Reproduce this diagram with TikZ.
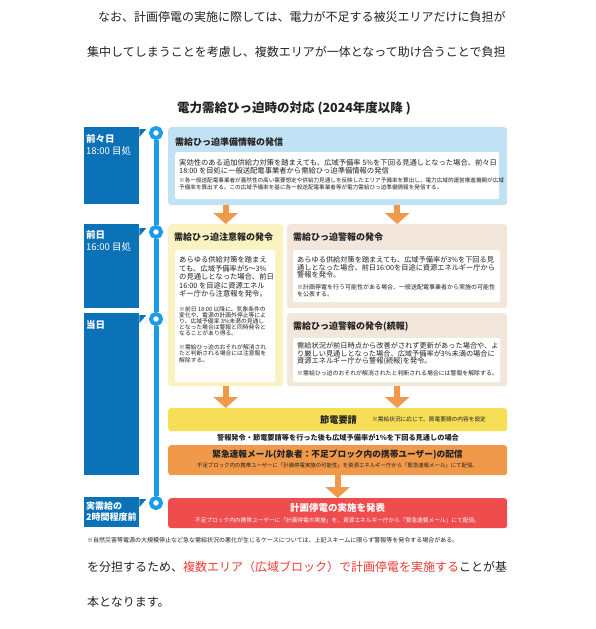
\documentclass[tikz,border=0pt]{standalone}
\usepackage{fontspec}
\setmainfont{Noto Sans CJK JP}
\usepackage{xcolor}
\usepackage{tikz}
\usetikzlibrary{arrows.meta,positioning}
\definecolor{dayblue}{HTML}{0B72B8}
\definecolor{lineblue}{HTML}{1E9BE8}
\definecolor{prepfill}{HTML}{C0E2F4}
\definecolor{cautfill}{HTML}{FAF3C1}
\definecolor{warnfill}{HTML}{F3E7DB}
\definecolor{arroworange}{HTML}{F0994A}
\definecolor{savefill}{HTML}{F6DF57}
\definecolor{mailfill}{HTML}{F0994A}
\definecolor{outagefill}{HTML}{EF4D4D}
\definecolor{redtext}{HTML}{EE3B33}
\definecolor{inktext}{HTML}{222222}
\newcommand{\setfs}[2]{\fontsize{#1}{#2}\selectfont}
\tikzset{
  daybox/.style={
    anchor=north west,
    fill=dayblue,
    minimum width=55pt,
    inner sep=0pt
  },
  daytext/.style={
    anchor=north west,
    align=left,
    inner sep=0pt,
    text=white,
    font=\setfs{9.5}{12}
  },
  tlmark/.style={
    circle,
    draw=lineblue,
    fill=white,
    line width=4pt,
    minimum size=10pt,
    inner sep=0pt
  },
  tlline/.style={draw=lineblue, line width=5pt},
  panel/.style={
    anchor=north west,
    rounded corners=3pt,
    inner sep=0pt
  },
  whitebox/.style={panel, fill=white, rounded corners=1.5pt},
  paneltitle/.style={
    anchor=west,
    inner sep=0pt,
    text=inktext,
    font=\bfseries\setfs{9}{11}
  },
  maintext/.style={
    anchor=north west,
    align=left,
    inner sep=0pt,
    text=inktext
  },
  flow/.style={draw=arroworange, line width=6pt, -{Triangle[width=24pt,length=11pt]}},
  para/.style={
    anchor=west,
    inner sep=0pt,
    text=inktext,
    font=\setfs{12}{14}
  }
}

\begin{document}
\begin{tikzpicture}[x=1pt,y=-1pt]
  \useasboundingbox (0,0) rectangle (595,629);

  % surrounding paragraph
  \node[para] (para1) at (98,16.7) {なお、計画停電の実施に際しては、電力が不足する被災エリアだけに負担が};
  \node[para] (para2) at (87,52.3) {集中してしまうことを考慮し、複数エリアが一体となって助け合うことで負担};
  \node[para] (para3) at (87,566.7) {を分担するため、\textcolor{redtext}{複数エリア（広域ブロック）で計画停電を実施する}ことが基};
  \node[para] (para4) at (87,601.7) {本となります。};

  \node[text=inktext, font=\bfseries\setfs{12.5}{14}] (title) at (294,108.3) {電力需給ひっ迫時の対応 (2024年度以降 )};

  % timeline
  \node[daybox, minimum height=77pt] (day1) at (84,127) {};
  \node[daybox, minimum height=84pt] (day2) at (84,224) {};
  \node[daybox, minimum height=162pt] (day3) at (84,313) {};
  \node[daybox, minimum height=30pt] (day4) at (84,497) {};

  \node[daytext] (day1txt) at (86,133.8) {\textbf{前々日}\\18:00 目処};
  \node[daytext] (day2txt) at (86,230.5) {\textbf{前日}\\16:00 目処};
  \node[daytext] (day3txt) at (86,320.5) {\textbf{当日}};
  \node[daytext, font=\bfseries\setfs{9}{11.5}] (day4txt) at (86,501.5) {実需給の\\2時間程度前};

  \node[tlmark] (t1) at (156,133) {};
  \node[tlmark] (t2) at (156,232) {};
  \node[tlmark] (t3) at (156,319) {};
  \node[tlmark] (t4) at (156,503) {};
  \draw[tlline] (t1) -- (t2);
  \draw[tlline] (t2) -- (t3);
  \draw[tlline] (t3) -- (t4);

  \foreach \d/\t in {day1/t1,day2/t2,day3/t3,day4/t4}
    \fill[dayblue] ([yshift=4pt]\d.east |- \t) -- ++(7,0) -- ++(-7,8) -- cycle;

  % preparation notice
  \node[panel, fill=prepfill, minimum width=339pt, minimum height=78pt] (prep) at (168,127) {};
  \node[paneltitle] (prepttl) at (175,141.7) {需給ひっ迫準備情報の発信};
  \node[whitebox, minimum width=324pt, minimum height=47pt] (prepin) at (175,152) {};
  \node[maintext, font=\setfs{7.3}{8.8}] (prepmain) at (179,158.8)
    {実効性のある追加供給力対策を踏まえても、広域予備率 5\%を下回る見通しとなった場合、前々日\\
     18:00 を目処に一般送配電事業者から需給ひっ迫準備情報の発信};
  \node[maintext, font=\setfs{5.6}{7}] (prepnote) at (179,177.9)
    {※各一般送配電事業者が蓋然性の高い需要想定や供給力見通しを反映したエリア予備率を算出し、電力広域的運営推進機関が広域\\
     予備率を算出する。この広域予備率を基に各一般送配電事業者等が電力需給ひっ迫準備情報を発信する。};

  % caution
  \node[panel, fill=cautfill, minimum width=115pt, minimum height=162pt] (caution) at (168,224) {};
  \node[paneltitle] (cautttl) at (174,237.3) {需給ひっ迫注意報の発令};
  \node[whitebox, minimum width=100pt, minimum height=132pt] (cautin) at (175,250) {};
  \node[maintext, font=\setfs{7.3}{8.5}] (cautmain) at (179,256.6)
    {あらゆる供給対策を踏まえ\\ても、広域予備率が5～3\%\\の見通しとなった場合、前日\\16:00 を目途に資源エネル\\ギー庁から注意報を発令。};
  \node[maintext, font=\setfs{5.8}{6.1}] (cautnote) at (179,306.3)
    {※前日 18:00 以降に、気象条件の\\変化や、電源の計画外停止等によ\\り、広域予備率 3\%未満の見通し\\となった場合は警報と同時発令と\\なることがあり得る。\\[7.9pt]
     ※需給ひっ迫のおそれが解消され\\たと判断される場合には注意報を\\解除する。};

  % warning
  \node[panel, fill=warnfill, minimum width=220pt, minimum height=84pt] (warn) at (287,224) {};
  \node[paneltitle] (warnttl) at (293,237.3) {需給ひっ迫警報の発令};
  \node[whitebox, minimum width=207pt, minimum height=52pt] (warnin) at (293,250) {};
  \node[maintext, font=\setfs{7.2}{7.4}] (warnmain) at (297,256.6)
    {あらゆる供給対策を踏まえても、広域予備率が3\%を下回る見\\通しとなった場合、前日16:00を目途に資源エネルギー庁から\\警報を発令。};
  \node[maintext, font=\setfs{6}{7.3}] (warnnote) at (297,283.9)
    {※計画停電を行う可能性がある場合、一般送配電事業者から実施の可能性\\を公表する。};

  % warning, follow-up
  \node[panel, fill=warnfill, minimum width=220pt, minimum height=73pt] (warn2) at (287,313) {};
  \node[paneltitle] (warn2ttl) at (293,326.7) {需給ひっ迫警報の発令(続報)};
  \node[whitebox, minimum width=207pt, minimum height=44pt] (warn2in) at (293,338) {};
  \node[maintext, font=\setfs{7.2}{7.4}] (warn2main) at (297,342.6)
    {需給状況が前日時点から改善がされず更新があった場合や、よ\\り厳しい見通しとなった場合、広域予備率が3\%未満の場合に\\資源エネルギー庁から警報(続報)を発令。};
  \node[maintext, font=\setfs{5.9}{7}] (warn2note) at (297,370.5)
    {※需給ひっ迫のおそれが解消されたと判断される場合には警報を解除する。};

  % saving request
  \node[panel, fill=savefill, minimum width=339pt, minimum height=23pt] (saving) at (168,408) {};
  \node[text=inktext, inner sep=0pt, font=\bfseries\setfs{9.2}{11}] (savettl) at (338.5,419.5) {節電要請};
  \node[maintext, anchor=west, font=\setfs{5.7}{7}] (savenote) at (372,419.5) {※需給状況に応じて、節電要請の内容を設定};

  \node[text=inktext, inner sep=0pt, font=\bfseries\setfs{7.2}{9}] (cond) at (338,437.3)
    {警報発令・節電要請等を行った後も広域予備率が1\%を下回る見通しの場合};

  % emergency mail
  \node[panel, fill=mailfill, minimum width=339pt, minimum height=30pt] (mail) at (168,445) {};
  \node[text=inktext, inner sep=0pt, font=\bfseries\setfs{8.7}{10}] (mailttl) at (337.5,455)
    {緊急速報メール(対象者：不足ブロック内の携帯ユーザー)の配信};
  \node[text=inktext, inner sep=0pt, font=\setfs{5.4}{7}] (mailsub) at (337.5,465.3)
    {不足ブロック内の携帯ユーザーに「計画停電実施の可能性」を資源エネルギー庁から「緊急速報メール」にて配信。};

  % rolling blackout
  \node[panel, fill=outagefill, minimum width=339pt, minimum height=30pt] (outage) at (168,498) {};
  \node[text=white, inner sep=0pt, font=\bfseries\setfs{9.5}{11}] (outttl) at (337.5,508.3) {計画停電の実施を発表};
  \node[text=white, inner sep=0pt, font=\setfs{5.7}{7}] (outsub) at (337.5,520)
    {不足ブロック内の携帯ユーザーに「計画停電の実施」を、資源エネルギー庁から「緊急速報メール」にて配信。};

  \node[maintext, anchor=west, font=\setfs{6}{7}] (footnote) at (87,540)
    {※自然災害等電源の大規模停止など急な需給状況の悪化が生じるケースについては、上記スキームに限らず警報等を発令する場合がある。};

  % arrows
  \draw[flow] (prep.south -| caution.north) -- (caution.north);
  \draw[flow] (prep.south -| warn.north) -- (warn.north);
  \draw[flow] (caution.south) -- (saving.north -| caution.south);
  \draw[flow] (warn2.south) -- (saving.north -| warn2.south);
  \draw[flow] (mail.south) -- (outage.north);
\end{tikzpicture}
\end{document}
